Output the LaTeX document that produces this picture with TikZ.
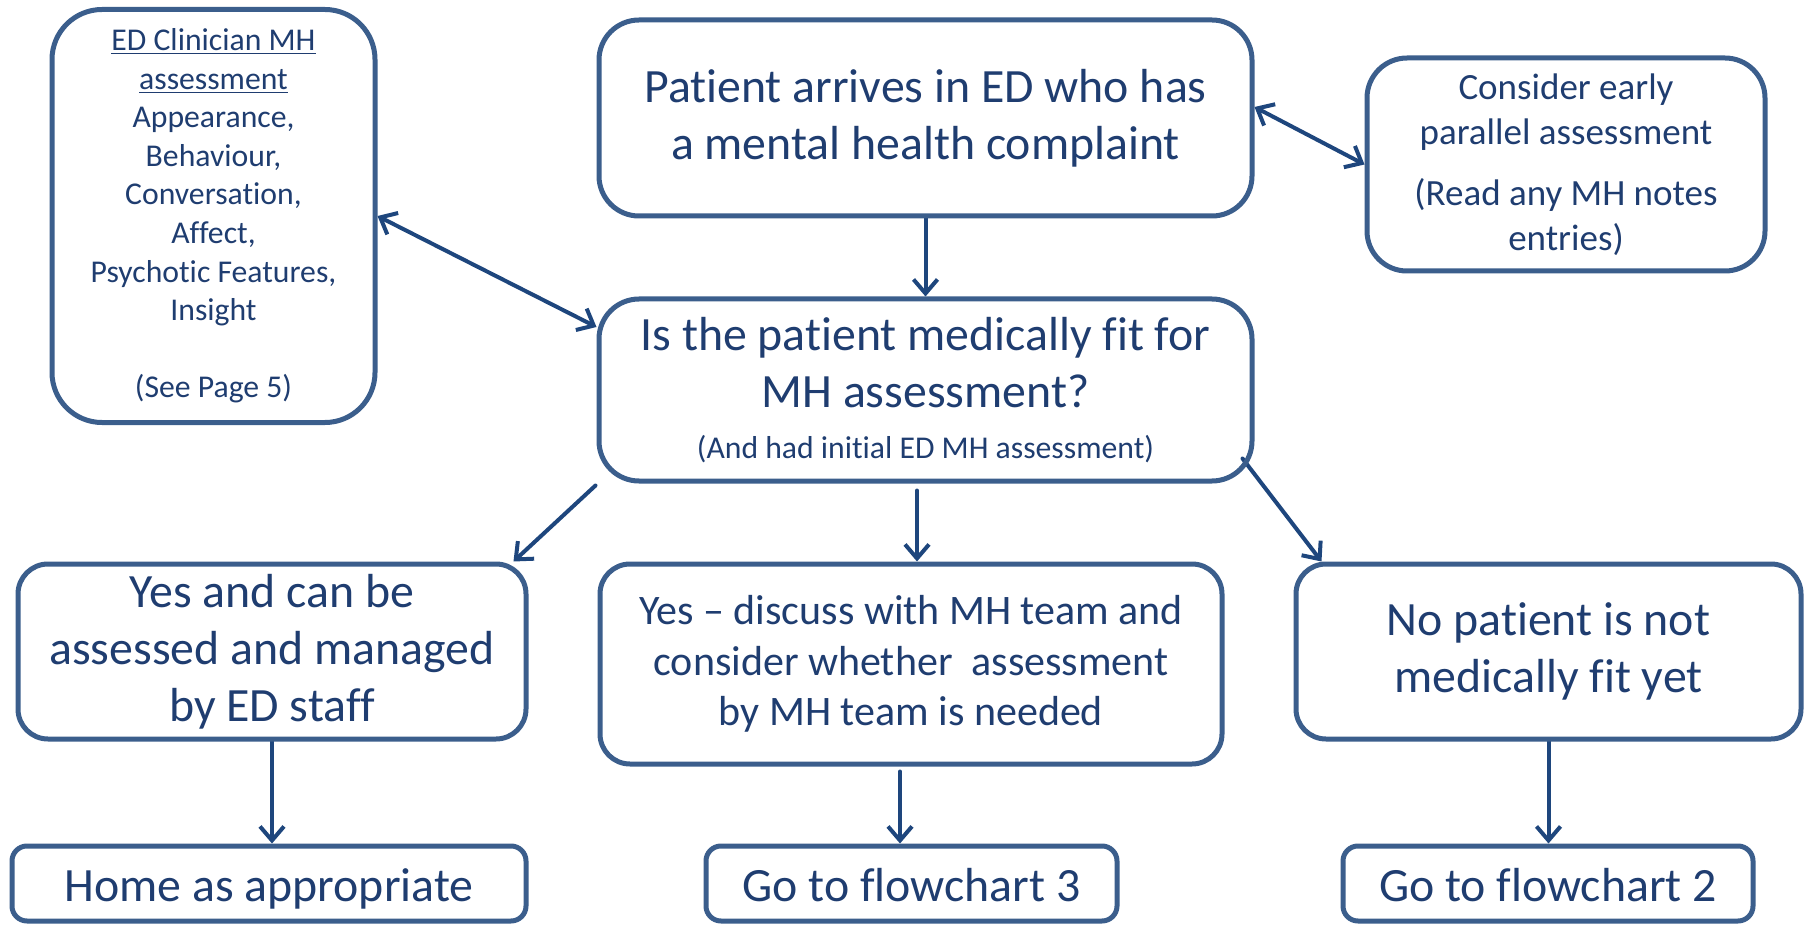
\documentclass[tikz,border=0pt]{standalone}
\usepackage{fontspec}
\setmainfont{Carlito}[Ligatures={TeX,NoCommon}]
\usetikzlibrary{arrows.meta}
\pgfdeclarelayer{bg}
\pgfsetlayers{bg,main}
\definecolor{boxblue}{RGB}{59,94,140}
\definecolor{txtblue}{RGB}{31,61,112}
\definecolor{arrblue}{RGB}{30,70,125}
\tikzset{
    every node/.style={rectangle, rounded corners=15pt, draw=boxblue, line width=2.5pt, text=txtblue, align=center, inner sep=0pt}
}
\tikzset{big/.style={font=\fontsize{23.9}{28.5}\selectfont}}
\tikzset{endbox/.style={big, rounded corners=7.5pt, minimum height=37.5pt, text height=22.4pt, text depth=4.8pt}}
\tikzset{
    arr/.style={draw=arrblue, line width=2pt, line cap=round, -{Straight Barb[length=7pt,width=12pt]}},
    dbl/.style={draw=arrblue, line width=2pt, line cap=round, {Straight Barb[length=7pt,width=12pt]}-{Straight Barb[length=7pt,width=12pt]}}
}

\begin{document}
\begin{tikzpicture}[x=0.5pt, y=-0.5pt]
        \useasboundingbox (0,0) rectangle (1805,925);
        \clip (0,0) rectangle (1805,925);
        \node (ed) [rounded corners=25pt, minimum width=161.5pt, minimum height=206.5pt,
            font=\fontsize{15.85}{19.3}\selectfont] at (213.5, 216)
            {\underline{ED Clinician MH}\\\underline{assessment}\\Appearance,\\Behaviour,\\Conversation,\\Affect,\\Psychotic Features,\\Insight\\[19.3pt](See Page 5)};
        \node (arr) [big, rounded corners=20pt, minimum width=326.5pt, minimum height=98pt] at (925.5, 118)
            {Patient arrives in ED who has\\a mental health complaint};
        \node (cons) [rounded corners=20pt, minimum width=199pt, minimum height=106.5pt,
            font=\fontsize{18.5}{22.5}\selectfont] at (1566, 164.5)
            {Consider early\\parallel assessment\\[8pt](Read any MH notes\\entries)};
        \node (fit) [big, rounded corners=20pt, minimum width=326.5pt, minimum height=91pt] at (925.5, 390)
            {Is the patient medically fit for\\MH assessment?\\[-3pt]{\fontsize{15.85}{19.2}\selectfont (And had initial ED MH assessment)}};
        \node (yes) [big, minimum width=254pt, minimum height=87.5pt] at (272, 651.5)
            {Yes and can be\\assessed and managed\\by ED staff};
        \node (disc) [minimum width=311pt, minimum height=100pt,
            font=\fontsize{21}{25.3}\selectfont] at (911, 664)
            {Yes -- discuss with MH team and\\consider whether\ \ assessment\\by MH team is needed};
        \node (no) [big, minimum width=252.5pt, minimum height=87.5pt] at (1548.5, 651.5)
            {No patient is not\\medically fit yet};
        \node (home) [endbox, minimum width=257pt] at (269, 883.5) {Home as appropriate};
        \node (go3) [endbox, minimum width=205.5pt] at (911.5, 883.5) {Go to flowchart 3};
        \node (go2) [endbox, minimum width=205pt] at (1548, 883.5) {Go to flowchart 2};
        \begin{pgfonlayer}{bg}
                \draw (arr.south) edge [arr] (fit.north);
                \draw (ed.east) edge [dbl] ([yshift=31.5pt]fit.west);
                \draw ([yshift=5.5pt]arr.east) edge [dbl] (cons.west);
                \draw ([shift={(-0.5pt,-1pt)}]fit.south west) edge [arr] ([xshift=-7.5pt]yes.north east);
                \draw ([xshift=-4.25pt,yshift=-3.5pt]fit.south) edge [arr] ([xshift=3pt]disc.north);
                \draw ([shift={(-6pt,12.5pt)}]fit.south east) edge [arr] ([xshift=14pt]no.north west);
                \draw (yes.south) edge [arr] (yes.south |- home.north);
                \draw ([xshift=-5.5pt,yshift=-2.5pt]disc.south) edge [arr] ([xshift=-5.5pt]disc.south |- go3.north);
                \draw (no.south) edge [arr] (no.south |- go2.north);
        \end{pgfonlayer}
\end{tikzpicture}
\end{document}
